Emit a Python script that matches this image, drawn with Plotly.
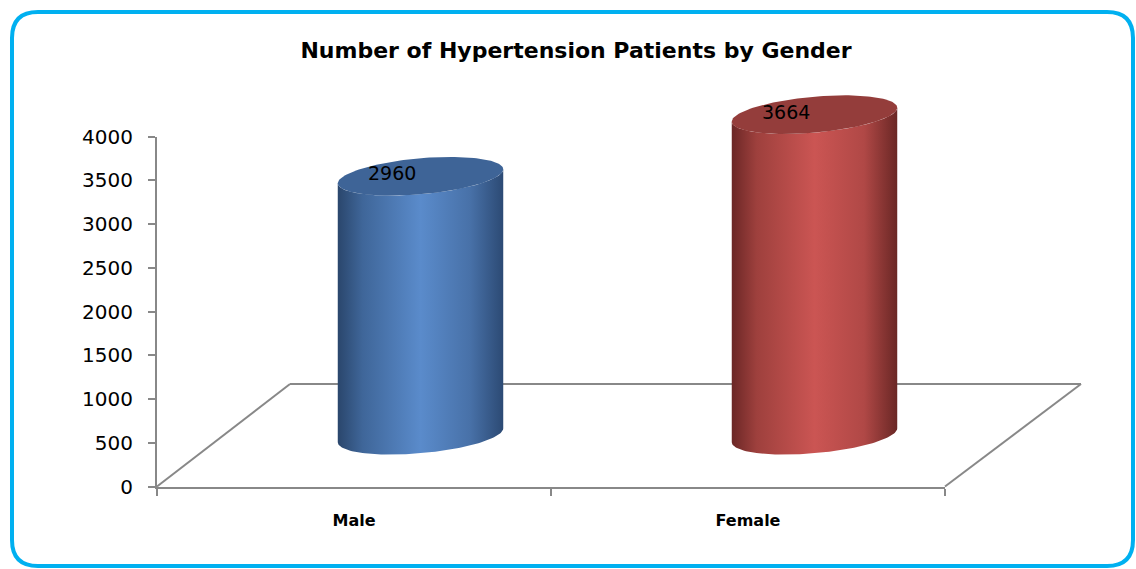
import numpy as np
import plotly.graph_objects as go

# ---------------- data ----------------
categories = ["Male", "Female"]
values = [2960, 3664]
y_ticks = [0, 500, 1000, 1500, 2000, 2500, 3000, 3500, 4000]
title_text = "Number of Hypertension Patients by Gender"

body_scales = [
    [[0, "#2A466C"], [0.15, "#3F6699"], [0.5, "#5A8BCB"], [0.8, "#4871A8"], [1, "#2C4A74"]],
    [[0, "#6B2726"], [0.15, "#9E403D"], [0.5, "#CB5553"], [0.8, "#B04846"], [1, "#6A2725"]],
]
top_colors = ["#3E6497", "#943D3B"]

# ---------------- geometry helpers ----------------
W, H = 1136, 569
def px(x):
    return x / W
def py(y):
    return 1 - y / H

# front plane (axis) pixel frame
X0, X1 = 157, 945
Y0, Y4000 = 486.5, 136.5
upp = 4000 / (Y0 - Y4000)          # y units per pixel
DX, DY = 133, 102.5                 # full depth offset in pixels
# mid-depth plane where cylinders stand
MX0, MX1 = X0 + DX / 2, X1 + DX / 2
MY0 = Y0 - DY / 2
y2_lo, y2_hi = -600, 4600

a = 0.21                 # semi-axis in category units
b = 18 * upp             # semi-minor axis in y units
s = 7 * upp              # shear of ellipse

def ell(cx, cy, th):
    return cx + a * np.cos(th), cy + b * np.sin(th) + s * np.cos(th)

fig = go.Figure()

for i, (cat, v) in enumerate(zip(categories, values)):
    th1 = np.linspace(np.pi, 2 * np.pi, 80)
    th2 = np.linspace(2 * np.pi, np.pi, 80)
    bx, by = ell(i, 0, th1)
    tx, ty = ell(i, v, th2)
    xs = np.concatenate([bx, tx, bx[:1]])
    ys = np.concatenate([by, ty, by[:1]])
    fig.add_trace(go.Scatter(
        x=xs, y=ys, xaxis="x2", yaxis="y2", mode="lines",
        line=dict(width=0), fill="toself",
        fillgradient=dict(type="horizontal", colorscale=body_scales[i]),
        hoverinfo="skip", showlegend=False))
    th = np.linspace(0, 2 * np.pi, 160)
    ex, ey = ell(i, v, th)
    fig.add_trace(go.Scatter(
        x=ex, y=ey, xaxis="x2", yaxis="y2", mode="lines",
        line=dict(width=0), fill="toself", fillcolor=top_colors[i],
        hoverinfo="skip", showlegend=False))
    fig.add_annotation(
        x=i, y=v, xref="x2", yref="y2", text=str(v), showarrow=False,
        xshift=-29, yshift=3,
        font=dict(family="DejaVu Sans", size=19, color="black"))

# invisible trace on the main axes so they render
fig.add_trace(go.Scatter(x=categories, y=[None, None], xaxis="x", yaxis="y",
                         mode="markers", showlegend=False, hoverinfo="skip"))

gray = "#888888"
shapes = []
# floor: left/right diagonals and back edge
for (xa, ya, xb, yb) in [
    (X0, Y0, X0 + DX, Y0 - DY),
    (X0 + DX, Y0 - DY, X1 + DX + 3, Y0 - DY),
    (X1, Y0, X1 + DX + 3, Y0 - DY),
]:
    shapes.append(dict(type="line", xref="paper", yref="paper",
                       x0=px(xa), y0=py(ya), x1=px(xb), y1=py(yb),
                       line=dict(color=gray, width=2), layer="below"))

# rounded frame
fx0, fy0, fx1, fy1, r = 12, 12, 1133, 566, 26
def P(x, y):
    return f"{px(x):.5f},{py(y):.5f}"
path = (f"M {P(fx0 + r, fy0)} L {P(fx1 - r, fy0)} Q {P(fx1, fy0)} {P(fx1, fy0 + r)} "
        f"L {P(fx1, fy1 - r)} Q {P(fx1, fy1)} {P(fx1 - r, fy1)} "
        f"L {P(fx0 + r, fy1)} Q {P(fx0, fy1)} {P(fx0, fy1 - r)} "
        f"L {P(fx0, fy0 + r)} Q {P(fx0, fy0)} {P(fx0 + r, fy0)} Z")
shapes.append(dict(type="path", xref="paper", yref="paper", path=path,
                   line=dict(color="#00B0F0", width=4)))

fig.update_layout(
    width=W, height=H,
    margin=dict(l=0, r=0, t=0, b=0, pad=0),
    paper_bgcolor="white", plot_bgcolor="rgba(0,0,0,0)",
    showlegend=False,
    title=dict(text=title_text, x=576 / W, xanchor="center",
               y=py(50), yanchor="middle", automargin=False,
               font=dict(family="DejaVu Sans", size=22, color="black", weight="bold")),
    xaxis=dict(domain=[px(X0), px(X1)], anchor="y", type="category",
               categoryorder="array", categoryarray=categories,
               range=[-0.5, 1.5], showgrid=False, zeroline=False, automargin=False,
               showline=True, linecolor=gray, linewidth=2,
               ticks="outside", tickson="boundaries", ticklen=7,
               tickcolor=gray, tickwidth=2, ticklabelstandoff=18,
               tickfont=dict(family="DejaVu Sans", size=16, color="black", weight="bold")),
    yaxis=dict(domain=[py(Y0), py(Y4000)], anchor="x", range=[0, 4000],
               tickvals=y_ticks, showgrid=False, zeroline=False, automargin=False,
               showline=True, linecolor=gray, linewidth=2,
               ticks="outside", ticklen=7, tickcolor=gray, tickwidth=2,
               ticklabelstandoff=11,
               tickfont=dict(family="DejaVu Sans", size=20, color="black")),
    xaxis2=dict(domain=[px(MX0), px(MX1)], anchor="y2", range=[-0.5, 1.5],
                visible=False, automargin=False),
    yaxis2=dict(domain=[py(MY0 - y2_lo / upp), py(MY0 - y2_hi / upp)],
                anchor="x2", range=[y2_lo, y2_hi], visible=False, automargin=False),
    shapes=shapes,
)

fig.write_html("out.html", config={"displayModeBar": False},
               post_script="document.body.style.margin='0';document.body.style.overflow='hidden';")
